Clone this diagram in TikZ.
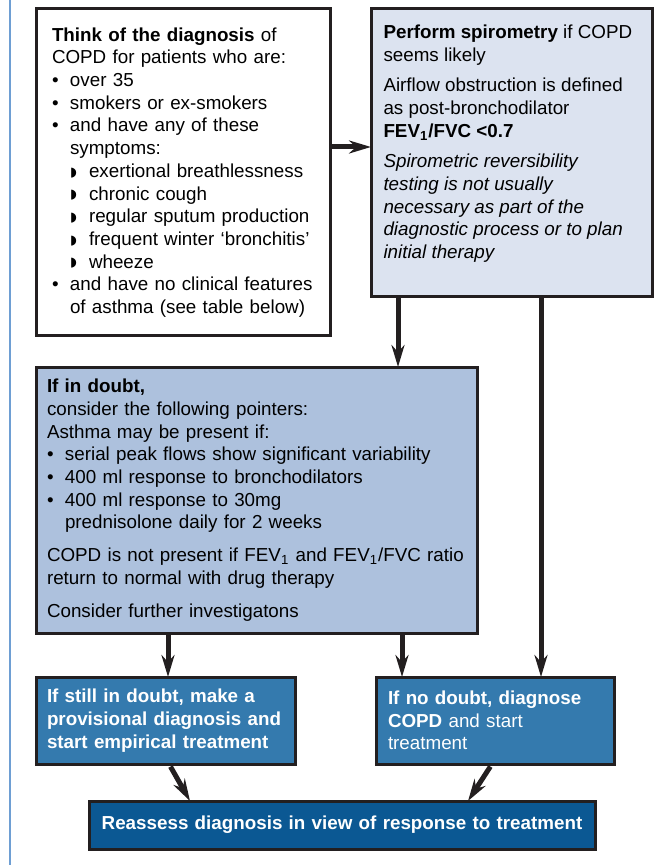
\documentclass[tikz,border=0pt]{standalone}
\usepackage{fontspec}
\setmainfont{Liberation Sans}
\newfontfamily\shapefont{DejaVu Sans}
\usetikzlibrary{positioning,arrows.meta}

\definecolor{boxline}{HTML}{231F20}
\definecolor{spirofill}{HTML}{DCE3F0}
\definecolor{doubtfill}{HTML}{ADC1DD}
\definecolor{treatfill}{HTML}{347AAE}
\definecolor{reassessfill}{HTML}{0B5893}
\definecolor{sidecol}{HTML}{6E9ED3}

\newcommand{\itm}{\makebox[9pt][l]{\textbullet}}
\newcommand{\subitm}{\hspace*{9pt}\makebox[9.5pt][l]{\raisebox{0.6pt}{\shapefont\fontsize{6.5}{6.5}\selectfont ◗}}}

\begin{document}
\begin{tikzpicture}[x=0.5pt,y=-0.5pt,
    box/.style = {draw=boxline, line width=1.5pt, outer sep=0pt, anchor=north west,
                  font=\fontsize{9.4}{11.35}\selectfont},
    treat/.style = {box, fill=treatfill, text=white, align=left, minimum height=43.5pt},
    arr/.style = {-{Stealth[length=11pt,width=6.5pt]}, line width=2.5pt, draw=boxline}]
    \useasboundingbox (0,0) rectangle (661,865);
    \draw[sidecol, line width=1.25pt] (10,0) -- (10,865);

    \node[box, align=left, text width=131pt, inner xsep=8pt, minimum height=163.5pt] (think) at (36,9)
        {\textbf{Think of the diagnosis} of\\
         COPD for patients who are:\\
         \itm over 35\\
         \itm smokers or ex-smokers\\
         \itm and have any of these\\
         \hspace*{9pt}symptoms:\\
         \subitm exertional breathlessness\\
         \subitm chronic cough\\
         \subitm regular sputum production\\
         \subitm frequent winter ‘bronchitis’\\
         \subitm wheeze\\
         \itm and have no clinical features\\
         \hspace*{9pt}of asthma (see table below)};
    \node[box, fill=spirofill, inner xsep=6.25pt, inner ysep=8pt,
          right=20.5pt of think.north east, anchor=north west] (spiro)
        {\parbox[t][128pt][t]{128pt}{\raggedright
         \textbf{Perform spirometry} if COPD\\
         seems likely\\[3.9pt]
         Airflow obstruction is defined\\
         as post-bronchodilator\\
         \textbf{FEV\textsubscript{1}/FVC <0.7}\\[3.9pt]
         \textit{Spirometric reversibility\\
         testing is not usually\\
         necessary as part of the\\
         diagnostic process or to plan\\
         initial therapy}}};
    \node[box, align=left, fill=doubtfill, text width=209.5pt, inner xsep=5.5pt, minimum height=133pt,
          below=15.5pt of think.south west, anchor=north west] (doubt)
        {\textbf{If in doubt,}\\
         consider the following pointers:\\
         Asthma may be present if:\\
         \itm serial peak flows show significant variability\\
         \itm 400 ml response to bronchodilators\\
         \itm 400 ml response to 30mg\\
         \hspace*{9pt}prednisolone daily for 2 weeks\\[5pt]
         COPD is not present if FEV\textsubscript{1} and FEV\textsubscript{1}/FVC ratio\\
         return to normal with drug therapy\\[5pt]
         Consider further investigatons};
    \node[treat, font=\fontsize{9.4}{11.35}\selectfont\bfseries, text width=118.5pt, inner xsep=5.5pt,
          below=22pt of doubt.south west, anchor=north west] (still)
        {If still in doubt, make a\\
         provisional diagnosis and\\
         start empirical treatment};
    \node[treat, text width=107pt, inner xsep=6pt,
          right=40.5pt of still.north east, anchor=north west] (nodoubt)
        {\textbf{If no doubt, diagnose}\\
         \textbf{COPD} and start\\
         treatment};
    \node[box, fill=reassessfill, text=white, align=center, font=\fontsize{9.4}{11.35}\selectfont\bfseries,
          text width=241pt, inner xsep=6pt, minimum height=24pt] (reassess) at (89,801)
        {Reassess diagnosis in view of response to treatment};

    % connectors
    \draw[arr] (think.east |- 0,147) -- (spiro.west |- 0,147);
    \draw[arr] (398,0 |- spiro.south) -- (398,0 |- doubt.north);
    \draw[arr] (541,0 |- spiro.south) -- (541,0 |- nodoubt.north);
    \draw[arr] (168,0 |- doubt.south) -- (168,0 |- still.north);
    \draw[arr] (402,0 |- doubt.south) -- (402,0 |- nodoubt.north);
    \draw[arr, shorten <=1.5pt] (169,0 |- still.south) -- (190,0 |- reassess.north);
    \draw[arr, shorten <=1.5pt] (492,0 |- nodoubt.south) -- (468,0 |- reassess.north);
\end{tikzpicture}
\end{document}
